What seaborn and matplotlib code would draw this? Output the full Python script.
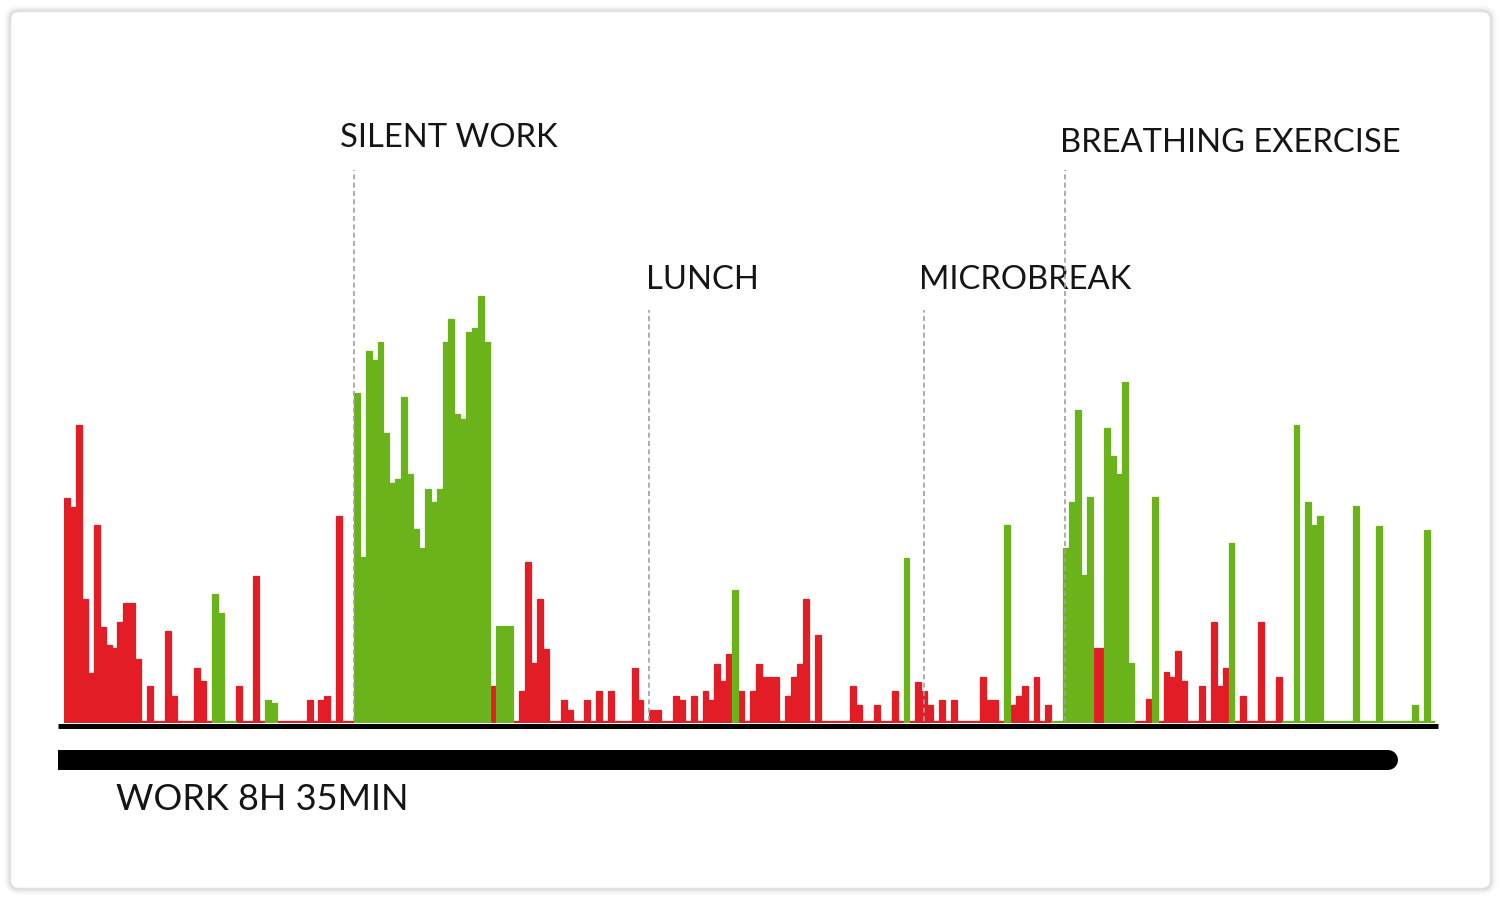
import numpy as np
import pandas as pd
import seaborn as sns
import matplotlib.pyplot as plt
from matplotlib.lines import Line2D
from matplotlib.patches import FancyBboxPatch

# ---------------- data (one value per time slot of the work day) ----------------
# level per slot, state per slot: r = stressed (red), g = relaxed (green)
morning_level = [225, 216, 298, 124, 50, 198, 96, 78, 75, 101, 120, 120, 64, 0, 37, 0, 0,
                 92, 27, 0, 0, 0, 55, 42, 0, 129, 110, 0, 0, 37, 0, 0, 147, 0, 23, 20,
                 0, 0, 0, 0, 0, 23, 0, 23, 27, 0, 207, 0, 0]
morning_state = "rrrrr rrrrr rrrrr rrrrr rrrrr gggg rrrrr gg rrrrr rrrrr rrr"

silent_level = [330, 166, 372, 363, 381, 290, 240, 244, 326, 249, 194, 175, 234, 221, 234,
                381, 404, 309, 304, 391, 395, 427, 381, 37, 97, 97, 97, 0, 32, 161, 60,
                124, 74, 0, 0, 23, 13, 0, 0, 23, 0, 32, 0, 32, 0, 0, 0, 55, 23, 0]
silent_state = "ggggg ggggg ggggg ggggg ggg r ggg rrrrr rrrrr rrrrr rrrrr rrr"

lunch_level = [13, 13, 0, 0, 27, 23, 0, 27, 0, 32, 23, 59, 42, 69, 133, 32, 0, 32, 59, 46,
               46, 46, 0, 27, 46, 59, 124, 0, 88, 0, 0, 0, 0, 0, 37, 18, 0, 0, 18, 0, 0,
               32, 0, 165, 0, 41]
lunch_state = "rrrrr rrrrr rrrr g rrrrr rrrrr rrrrr rrrrr rrrrr rrr g rr"

microbreak_level = [32, 18, 0, 23, 0, 23, 0, 0, 0, 0, 46, 23, 23, 0, 198, 18, 27, 37, 0,
                    46, 0, 18, 0, 0]
microbreak_state = "rrrrr rrrrr rrrr g rrrrr rr gg"

breathing_level = [175, 221, 313, 148, 226, 75, 75, 295, 267, 249, 341, 60, 0, 0, 24, 226,
                   0, 51, 46, 72, 42, 0, 0, 37, 0, 101, 37, 55, 180, 0, 27, 0, 0, 101, 0,
                   0, 46, 0, 0, 298, 0, 221, 198, 207, 0, 0, 0, 0, 0, 217, 0, 0, 0, 197,
                   0, 0, 0, 0, 0, 18, 0, 193, 0]
breathing_state = "ggggg rr ggggg rrr g rrrrr rrrrr rr g rrrrr rrr ggggg ggggg ggggg ggggg ggggg g"

events = ["SILENT WORK", "LUNCH", "MICROBREAK", "BREATHING EXERCISE"]
event_slot = [48.5, 98.5, 145.0, 168.8]
duration_label = "WORK 8H 35MIN"

# ---------------- assemble ----------------
levels = morning_level + silent_level + lunch_level + microbreak_level + breathing_level
states = "".join((morning_state + silent_state + lunch_state + microbreak_state +
                  breathing_state).split())
assert len(levels) == len(states), (len(levels), len(states))
N = len(levels)
df = pd.DataFrame({"slot": np.arange(N), "level": levels, "state": list(states)})
df["shown"] = np.maximum(df["level"], 1.6)  # zero slots show as a thin trace

RED = "#E31D25"
GREEN = "#6BB31B"

sns.set_theme(style="white")
plt.rcParams["font.family"] = ["Lato", "DejaVu Sans"]

W, H = 1500, 900
fig = plt.figure(figsize=(W / 100, H / 100), dpi=100)
fig.patch.set_facecolor("white")
inch = fig.dpi_scale_trans


def px(x, y):
    return x / 100, (H - y) / 100


# card with soft shadow
x0, y0, x1, y1 = 11, 12, 1490, 888
for k in range(8, 0, -1):
    sh = FancyBboxPatch((px(x0 - k, y1 + k)), (x1 - x0 + 2 * k) / 100,
                        (y1 - y0 + 2 * k) / 100,
                        boxstyle=f"round,pad=0,rounding_size={(8 + k) / 100}",
                        transform=inch, facecolor="#000000", edgecolor="none",
                        alpha=0.009 * (9 - k) / 2, zorder=-3)
    fig.patches.append(sh)
card = FancyBboxPatch(px(x0, y1), (x1 - x0) / 100, (y1 - y0) / 100,
                      boxstyle="round,pad=0,rounding_size=0.08", transform=inch,
                      facecolor="white", edgecolor="#efefef", linewidth=0.6, zorder=-2)
fig.patches.append(card)

# chart axes (pixel geometry of the reference)
slot_w = 5.91
left_px, base_px, top_px = 64.3, 723, 100
ax = fig.add_axes([left_px / W, (H - base_px) / H, N * slot_w / W, (base_px - top_px) / H])
ax.set_facecolor("none")
ax.set_zorder(2)

sns.barplot(data=df, x="slot", y="shown", hue="state", palette={"r": RED, "g": GREEN},
            native_scale=True, width=1, dodge=False, saturation=1, linewidth=0,
            errorbar=None, legend=False, ax=ax)
for p in ax.patches:
    p.set_edgecolor(p.get_facecolor())
    p.set_linewidth(0.9)

ax.set_xlim(-0.5, N - 0.5)
ax.set_ylim(0, base_px - top_px)
ax.axis("off")

# event markers
tops = [553, 413, 413, 553]
label_y = [576, 434, 434, 571]
label_dx = [-10, -2.5, -3.5, -3.5]  # points
ax.vlines(event_slot, 2, tops, colors="#a0a0a0", linestyles=(0, (3, 2)), linewidth=1.2,
          zorder=6)
for name, xs, ly, dx in zip(events, event_slot, label_y, label_dx):
    ax.annotate(name, xy=(xs, ly), xytext=(dx, 0), textcoords="offset points",
                ha="left", va="baseline", fontsize=23.6, color="#151515",
                family=["Lato", "DejaVu Sans"], annotation_clip=False)

# baseline and work duration bar
fig.add_artist(Line2D([58 / 100, 1437.7 / 100], [(H - 726) / 100] * 2, transform=inch,
                      color="black", linewidth=3.6, solid_capstyle="butt", zorder=5))
fig.add_artist(Line2D([58 / 100, 1388 / 100], [(H - 760) / 100] * 2, transform=inch,
                      color="black", linewidth=14.4, solid_capstyle="butt", zorder=5))
fig.add_artist(Line2D([1370 / 100, 1388 / 100], [(H - 760) / 100] * 2, transform=inch,
                      color="black", linewidth=14.4, solid_capstyle="round", zorder=5))
fig.text(116 / W, (H - 810) / H, duration_label, ha="left", va="baseline", fontsize=26,
         color="#151515", family=["Lato", "DejaVu Sans"])

fig.savefig("out.png", dpi=100, facecolor="white")
